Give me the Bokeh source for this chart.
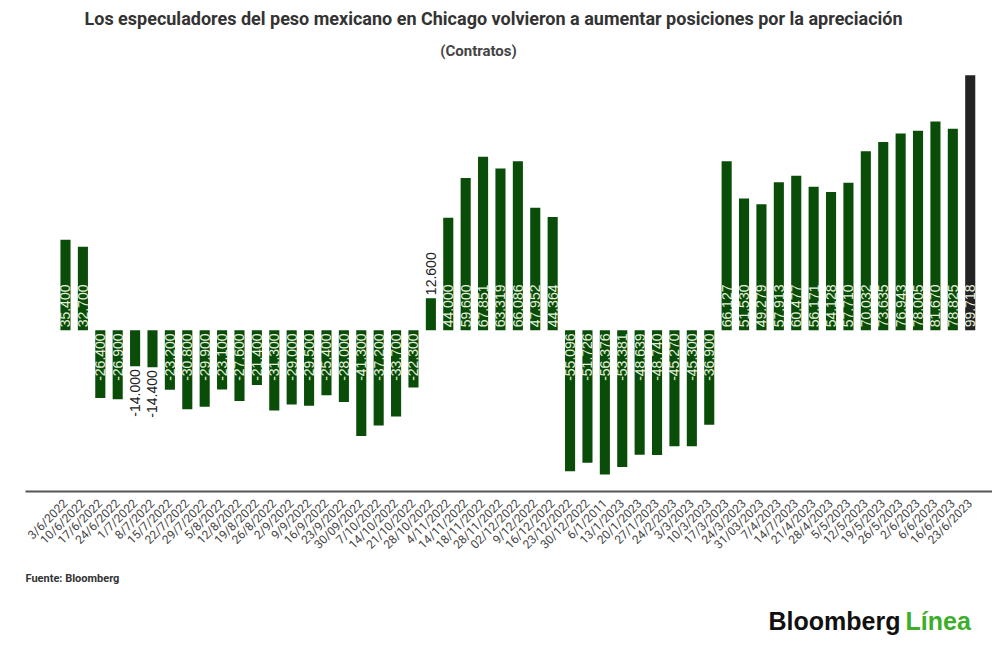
import math
from bokeh.plotting import figure
from bokeh.layouts import column
from bokeh.models import ColumnDataSource, Range1d, FixedTicker
from bokeh.core.properties import value
from bokeh.embed import file_html
from bokeh.resources import INLINE

dates = ["3/6/2022", "10/6/2022", "17/6/2022", "24/6/2022", "1/7/2022", "8/7/2022",
         "15/7/2022", "22/7/2022", "29/7/2022", "5/8/2022", "12/8/2022", "19/8/2022",
         "26/8/2022", "2/9/2022", "9/9/2022", "16/9/2022", "23/9/2022", "30/09/2022",
         "7/10/2022", "14/10/2022", "21/10/2022", "28/10/2022", "4/11/2022", "14/11/2022",
         "18/11/2022", "28/11/2022", "02/12/2022", "9/12/2022", "16/12/2022", "23/12/2022",
         "30/12/2022", "6/1/2011", "13/1/2023", "20/1/2023", "27/1/2023", "24/2/2023",
         "3/3/2023", "10/3/2023", "17/3/2023", "24/3/2023", "31/03/2023", "7/4/2023",
         "14/7/2023", "21/4/2023", "28/4/2023", "5/5/2023", "12/5/2023", "19/5/2023",
         "26/5/2023", "2/6/2023", "6/6/2023", "16/6/2023", "23/6/2023"]

contratos = [35400, 32700, -26400, -26900, -14000, -14400, -23200, -30800, -29900,
             -23100, -27600, -21400, -31300, -29000, -29500, -25400, -28000, -41300,
             -37200, -33700, -22300, 12600, 44000, 59600, 67851, 63319, 66086, 47952,
             44364, -55096, -51726, -56376, -53381, -48639, -48740, -45270, -45300,
             -36900, 66127, 51530, 49279, 57913, 60477, 56171, 54128, 57710, 70032,
             73635, 76943, 78005, 81670, 78825, 99718]

titulo = "Los especuladores del peso mexicano en Chicago volvieron a aumentar posiciones por la apreciación"
subtitulo = "(Contratos)"
fuente = "Fuente: Bloomberg"
marca = ["Bloomberg", "Línea"]

GREEN = "#0a4d08"
LAST = "#232323"
W = 992
LEFT = 25


def blank(h):
    f = figure(width=W, height=h, output_backend="svg", toolbar_location=None,
               x_range=Range1d(LEFT, W), y_range=Range1d(h, 0),
               min_border_left=LEFT, min_border_right=0, min_border_top=0,
               min_border_bottom=0)
    f.axis.visible = False
    f.grid.visible = False
    f.outline_line_color = None
    return f


# header
hdr = blank(68)
hdr.text(x=[493], y=[18], text=[titulo], text_align="center", text_baseline="middle",
         text_font=value("Roboto"), text_font_style="bold", text_font_size="18px",
         text_color="#333333")
hdr.text(x=[478], y=[50], text=[subtitulo], text_align="center", text_baseline="middle",
         text_font=value("Roboto"), text_font_style="bold", text_font_size="15px",
         text_color="#444444")

# main chart
n = len(contratos)
idx = list(range(n))
colors = [GREEN] * (n - 1) + [LAST]

inside = [abs(v) > 18000 for v in contratos]
lab_y = [0 if ins else v for v, ins in zip(contratos, inside)]
lab_align = ["left" if v > 0 else "right" for v in contratos]
lab_off = [-3 if v > 0 else 3 for v in contratos]
lab_color = ["#e6f2de" if ins else "#222222" for ins in inside]
lab_text = [f"{v:,}".replace(",", ".") for v in contratos]

src = ColumnDataSource(dict(x=idx, top=contratos, color=colors))
lsrc = ColumnDataSource(dict(x=idx, y=lab_y, align=lab_align, off=lab_off,
                             color=lab_color, text=lab_text))

p = figure(width=W, height=500, output_backend="svg", toolbar_location=None,
           x_range=Range1d(-2.299, 53.28), y_range=Range1d(-63000, 101600),
           min_border_left=LEFT, min_border_right=0, min_border_top=2,
           min_border_bottom=77)
p.outline_line_color = None
p.xgrid.visible = False
p.ygrid.visible = False
p.yaxis.visible = False

p.vbar(x="x", top="top", bottom=0, width=0.58, fill_color="color",
       line_color=None, source=src)

p.text(x="x", y="y", text="text", angle=math.pi / 2, text_align="align",
       text_baseline="middle", y_offset="off", text_color="color",
       text_font=value("Liberation Sans"), text_font_size="14px", source=lsrc)

ax = p.xaxis[0]
ax.ticker = FixedTicker(ticks=idx)
ax.major_label_overrides = {i: d for i, d in zip(idx, dates)}
ax.major_label_orientation = math.pi / 4
ax.major_label_text_font = "Roboto"
ax.major_label_text_font_size = "12px"
ax.major_label_text_color = "#444444"
ax.axis_line_color = "#555555"
ax.axis_line_width = 2
ax.major_tick_line_color = None
ax.minor_tick_line_color = None
ax.major_label_standoff = 4

# footer
ftr = blank(76)
ftr.text(x=[25], y=[10], text=[fuente], text_align="left", text_baseline="middle",
         text_font=value("Roboto"), text_font_style="bold", text_font_size="11px",
         text_color="#333333")
ftr.text(x=[768], y=[52], text=[marca[0]], text_align="left", text_baseline="middle",
         text_font=value("Liberation Sans"), text_font_style="bold",
         text_font_size="25px", text_color="#111111")
ftr.text(x=[905], y=[52], text=[marca[1]], text_align="left", text_baseline="middle",
         text_font=value("Liberation Sans"), text_font_style="bold",
         text_font_size="25px", text_color="#3dae2b")

layout = column(hdr, p, ftr, spacing=0)
open("out.html", "w").write(file_html(layout, INLINE))
